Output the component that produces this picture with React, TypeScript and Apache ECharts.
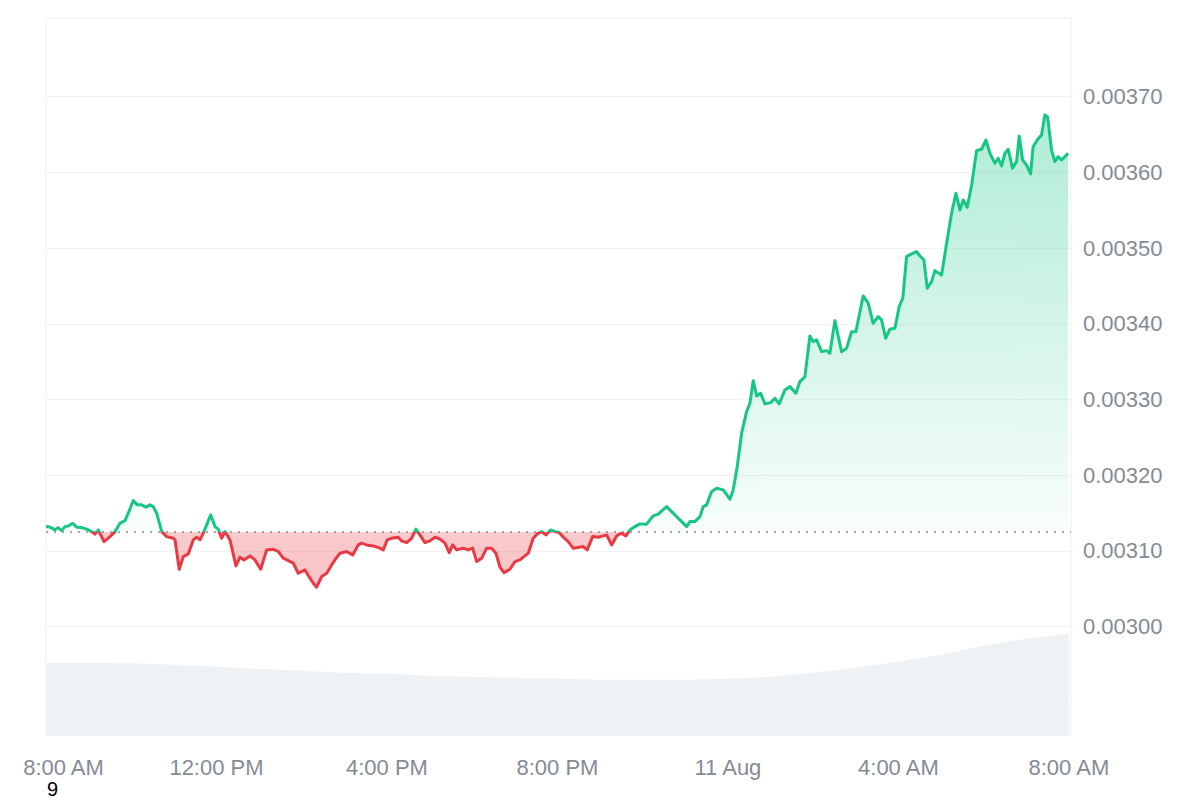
import { useEffect, useRef } from "react";
import * as echarts from "echarts";

const timeLabels = ["8:00 AM", "12:00 PM", "4:00 PM", "8:00 PM", "11 Aug", "4:00 AM", "8:00 AM"];

const openPrice = 0.003125;
const labelMin = 0.003;
const labelMax = 0.0037;

// minutes since 8:00 AM
const priceMinutes = [
  0, 2.8, 8.0, 12.7, 16.9, 22.1, 26.7, 31.4, 37.6, 43.2, 50.3, 57.3, 64.3, 69.0, 73.6, 81.6, 90.1, 97.1,
  104.2, 111.2, 115.8, 122.9, 128.5, 134.7, 140.8, 146.4, 151.0, 155.8, 162.9, 169.9, 179.2, 181.6, 187.6,
  193.3, 200.3, 207.3, 212.1, 216.8, 221.4, 226.2, 231.8, 237.9, 242.5, 247.3, 252.0, 259.0, 267.4, 273.1,
  278.7, 287.2, 294.2, 302.2, 310.7, 320.0, 327.0, 334.0, 341.1, 348.1, 355.1, 364.6, 371.6, 376.3, 381.0,
  388.1, 395.1, 402.2, 406.8, 413.8, 423.3, 431.7, 439.6, 444.4, 451.4, 460.7, 470.1, 474.8, 480.4, 486.6,
  495.9, 500.7, 507.7, 514.8, 520.8, 526.4, 533.5, 540.5, 547.6, 554.6, 561.6, 567.7, 572.5, 578.1, 587.4,
  594.4, 600.6, 606.3, 613.3, 620.3, 627.4, 633.4, 639.1, 644.7, 653.1, 660.2, 667.2, 672.8, 678.9, 685.9,
  691.6, 697.8, 703.8, 710.4, 716.5, 722.5, 728.2, 735.2, 742.2, 750.7, 756.3, 761.9, 769.5, 777.4, 784.5,
  789.3, 796.3, 803.3, 810.4, 816.4, 822.0, 829.1, 836.1, 845.5, 854.8, 861.9, 873.7, 880.7, 887.8, 894.8,
  901.9, 906.5, 913.5, 920.6, 925.2, 930.0, 937.0, 944.1, 953.4, 962.8, 967.4, 973.1, 979.3, 986.3, 991.0,
  995.6, 1000.4, 1006.0, 1012.1, 1020.1, 1026.1, 1032.2, 1040.2, 1047.3, 1055.7, 1061.3, 1068.4, 1075.4,
  1080.1, 1084.8, 1091.9, 1098.9, 1103.6, 1110.6, 1120.0, 1127.1, 1134.1, 1140.2, 1150.4, 1157.5, 1164.5,
  1171.5, 1176.3, 1182.0, 1188.0, 1195.1, 1201.1, 1206.3, 1211.5, 1218.6, 1225.6, 1230.3, 1235.9, 1240.6,
  1246.7, 1251.4, 1260.8, 1267.9, 1274.9, 1281.0, 1286.6, 1291.3, 1296.9, 1303.1, 1310.1, 1317.2, 1323.2,
  1328.8, 1335.9, 1340.5, 1345.3, 1350.0, 1354.6, 1360.7, 1366.4, 1370.1, 1374.8, 1380.4, 1386.1, 1389.7,
  1395.4, 1401.5, 1406.2, 1410.0, 1415.6, 1420.3, 1424.9, 1429.7, 1434.4, 1439.0,
];

const priceValues = [
  0.0031317, 0.0031321, 0.0031304, 0.0031277, 0.0031308, 0.0031268, 0.0031321, 0.003133, 0.0031366,
  0.0031313, 0.0031308, 0.0031287, 0.0031255, 0.0031221, 0.0031277, 0.0031123, 0.0031189, 0.0031255,
  0.0031366, 0.00314, 0.0031498, 0.0031664, 0.0031608, 0.0031608, 0.0031577, 0.0031608, 0.0031585,
  0.0031498, 0.0031255, 0.0031189, 0.0031168, 0.0031145, 0.0030758, 0.0030925, 0.003096, 0.0031145,
  0.0031181, 0.0031145, 0.0031234, 0.0031343, 0.0031475, 0.0031321, 0.0031287, 0.0031168, 0.0031255,
  0.0031145, 0.0030802, 0.0030917, 0.0030881, 0.0030934, 0.0030881, 0.0030758, 0.0031013, 0.0031022,
  0.0030991, 0.0030904, 0.0030872, 0.0030838, 0.0030705, 0.0030749, 0.0030639, 0.0030573, 0.0030521,
  0.0030661, 0.0030705, 0.0030815, 0.0030881, 0.003097, 0.0030991, 0.0030947, 0.0031079, 0.0031102,
  0.0031079, 0.0031066, 0.0031036, 0.0031013, 0.0031145, 0.0031168, 0.0031181, 0.0031132, 0.003111,
  0.0031168, 0.0031287, 0.0031211, 0.003111, 0.0031132, 0.0031181, 0.0031155, 0.0031102, 0.0030978,
  0.0031079, 0.0031013, 0.0031036, 0.0031013, 0.0031036, 0.0030859, 0.0030904, 0.0031036, 0.0031036,
  0.003097, 0.0030785, 0.0030713, 0.0030758, 0.0030859, 0.0030881, 0.0030925, 0.003097, 0.0031168,
  0.0031225, 0.0031255, 0.0031211, 0.0031277, 0.0031255, 0.0031242, 0.0031181, 0.0031123, 0.0031036,
  0.0031049, 0.0031057, 0.0031013, 0.0031189, 0.0031181, 0.0031198, 0.0031211, 0.0031079, 0.0031198,
  0.0031234, 0.0031198, 0.0031277, 0.0031321, 0.0031357, 0.0031353, 0.0031462, 0.0031485, 0.0031585,
  0.0031519, 0.0031453, 0.0031387, 0.0031321, 0.0031387, 0.0031387, 0.0031453, 0.0031585, 0.0031608,
  0.0031783, 0.0031828, 0.0031806, 0.0031683, 0.0031806, 0.0032113, 0.0032555, 0.003284, 0.0032951,
  0.0033249, 0.0033047, 0.0033083, 0.0032942, 0.0032959, 0.0033017, 0.0032942, 0.0033127, 0.003317,
  0.0033083, 0.0033236, 0.0033302, 0.003384, 0.0033764, 0.0033787, 0.0033632, 0.0033646, 0.0033611,
  0.0034042, 0.0033632, 0.0033677, 0.0033896, 0.0033896, 0.0034368, 0.0034272, 0.0034007, 0.0034095,
  0.0034051, 0.0033809, 0.0033928, 0.0033941, 0.0034227, 0.0034342, 0.0034887, 0.0034923, 0.0034953,
  0.0034896, 0.0034844, 0.003447, 0.0034557, 0.0034702, 0.0034645, 0.0035064, 0.003546, 0.0035725,
  0.0035504, 0.0035636, 0.003554, 0.0035834, 0.0036287, 0.0036306, 0.0036428, 0.0036253, 0.0036121,
  0.0036187, 0.0036085, 0.0036253, 0.0036306, 0.0036055, 0.0036142, 0.0036481, 0.0036164, 0.0036098,
  0.0035979, 0.003634, 0.0036428, 0.0036495, 0.0036759, 0.0036736, 0.0036296, 0.0036142, 0.0036208,
  0.0036164, 0.0036208, 0.0036253,
];

// hourly volume (millions), from 8:00 AM
const volumeMinutes = [
  0, 60, 120, 180, 240, 300, 360, 420, 480, 540, 600, 660, 720, 780, 840, 900, 960, 1020, 1080, 1140, 1200,
  1260, 1320, 1380, 1440,
];
const volumeValues = [
  5.02, 5.02, 5.0, 4.9, 4.76, 4.62, 4.48, 4.34, 4.27, 4.13, 4.06, 3.99, 3.92, 3.85, 3.85, 3.85, 3.92, 4.06,
  4.34, 4.69, 5.11, 5.6, 6.23, 6.72, 7.07,
];

const X_MAX = 1443;

export default function App() {
  const ref = useRef<HTMLDivElement>(null);

  useEffect(() => {
    document.body.style.margin = "0";
    const chart = echarts.init(ref.current!, null, { renderer: "svg" });
    const pricePairs = priceMinutes.map((m, i) => [m, priceValues[i]]);
    const volumePairs = volumeMinutes.map((m, i) => [m, volumeValues[i]]);
    const hi = Math.max(...priceValues);
    const lo = Math.min(...priceValues);
    const loArea = Math.min(lo, openPrice);
    const split = (hi - openPrice) / (hi - loArea);
    const lineSplit = (hi - openPrice) / (hi - lo);
    const font = "'Liberation Sans', Arial, sans-serif";
    const labelColor = "#858b95";

    chart.setOption({
      animation: false,
      grid: [
        { left: 46, right: 129, top: 21, bottom: 22, outerBoundsMode: "none", containLabel: false },
        {
          left: 46,
          right: 129,
          top: 18,
          bottom: 65,
          show: true,
          borderColor: "#efefef",
          borderWidth: 1,
          outerBoundsMode: "none",
          containLabel: false,
        },
      ],
      xAxis: [
        { gridIndex: 0, type: "value", min: 0, max: X_MAX, interval: 240, show: false },
        {
          gridIndex: 1,
          type: "value",
          min: 0,
          max: X_MAX,
          interval: 240,
          axisLine: { show: false },
          axisTick: { show: false },
          splitLine: { show: false },
          axisLabel: {
            margin: 21,
            color: labelColor,
            fontSize: 22,
            lineHeight: 22,
            fontFamily: font,
            formatter: (v: number) => {
              const idx = Math.round(v / 240);
              const t = timeLabels[idx] ?? "";
              return idx === 0 ? "{first|" + t + "}" : t;
            },
            rich: {
              first: {
                padding: [0, 0, 0, 35],
                color: labelColor,
                fontSize: 22,
                lineHeight: 22,
                fontFamily: font,
              },
            },
          },
        },
      ],
      yAxis: [
        {
          gridIndex: 0,
          type: "value",
          position: "right",
          min: 0.0028,
          max: 0.0038,
          interval: 0.0001,
          axisLine: { show: false },
          axisTick: { show: false },
          axisLabel: {
            margin: 12,
            color: labelColor,
            fontSize: 22,
            fontFamily: font,
            formatter: (v: number) =>
              v < labelMin - 1e-9 || v > labelMax + 1e-9 ? "" : v.toFixed(5),
          },
          splitLine: { lineStyle: { color: "#f2f2f2", width: 1 }, showMinLine: false, showMaxLine: false },
        },
        { gridIndex: 1, type: "value", min: 0, max: 50, show: false },
      ],
      series: [
        {
          type: "line",
          xAxisIndex: 1,
          yAxisIndex: 1,
          data: volumePairs,
          symbol: "none",
          silent: true,
          lineStyle: { width: 0 },
          areaStyle: { color: "#eff2f5", opacity: 1 },
          z: 1,
        },
        {
          type: "line",
          xAxisIndex: 0,
          yAxisIndex: 0,
          data: pricePairs,
          symbol: "none",
          silent: true,
          lineStyle: { width: 0 },
          areaStyle: {
            origin: openPrice,
            opacity: 1,
            color: new echarts.graphic.LinearGradient(0, 0, 0, 1, [
              { offset: 0, color: "rgba(22,199,132,0.34)" },
              { offset: split, color: "rgba(22,199,132,0.03)" },
              { offset: split, color: "rgba(234,57,67,0.27)" },
              { offset: 1, color: "rgba(234,57,67,0.3)" },
            ]),
          },
          z: 2,
        },
        {
          type: "line",
          xAxisIndex: 0,
          yAxisIndex: 0,
          data: [
            [0, openPrice],
            [X_MAX, openPrice],
          ],
          symbol: "none",
          silent: true,
          lineStyle: { color: "#8c8c8c", type: [2, 6], width: 1.5 },
          z: 3,
        },
        {
          type: "line",
          xAxisIndex: 0,
          yAxisIndex: 0,
          data: pricePairs,
          symbol: "none",
          silent: true,
          lineStyle: {
            width: 3,
            join: "round",
            color: new echarts.graphic.LinearGradient(0, 0, 0, 1, [
              { offset: 0, color: "#16c784" },
              { offset: lineSplit, color: "#16c784" },
              { offset: lineSplit, color: "#ea3943" },
              { offset: 1, color: "#ea3943" },
            ]),
          },
          z: 4,
        },
      ],
      graphic: [
        {
          type: "text",
          left: 47,
          top: 779,
          style: { text: "9", fontSize: 20, lineHeight: 20, fill: "#000", fontFamily: font },
        },
      ],
    });

    return () => chart.dispose();
  }, []);

  return <div ref={ref} style={{ width: 1200, height: 800 }} />;
}
